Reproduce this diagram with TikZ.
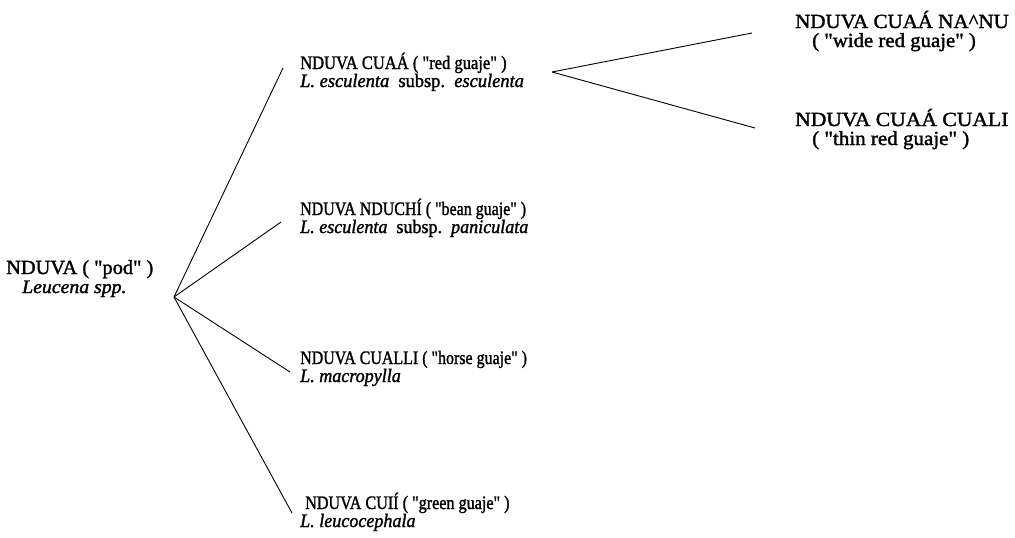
\documentclass[tikz,border=0pt]{standalone}
\usepackage{fontspec}
\setmainfont{Liberation Serif}[FakeBold=1.6]
\newcommand{\qq}{\textquotedbl}
\newcommand{\sx}[2]{\scalebox{#1}[1]{#2}}
\begin{document}
\begin{tikzpicture}[x=1pt,y=-1pt,
  lbl/.style={anchor=base west,inner sep=0pt,font=\fontsize{19}{21}\selectfont},
  big/.style={lbl,font=\fontsize{20}{22}\selectfont},
  edge/.style={line width=0.9pt,black}]
\useasboundingbox (0,0) rectangle (1015,538);
% root
\node[big] (root) at (6,274) {\sx{1.02}{NDUVA ( \qq pod\qq\ )}};
\node[lbl] (root2) at (22,293) {\sx{1.04}{\itshape Leucena spp.}};
\coordinate (fan) at (174,297);
% children
\node[lbl] (cuaa) at (300,69) {\sx{0.87}{NDUVA CUAÁ ( \qq red guaje\qq\ )}};
\node[lbl] (cuaa2) at (300,87) {\sx{0.97}{\itshape L. esculenta\upshape\ \ subsp.\ \ \itshape esculenta}};
\node[lbl] (nduchi) at (300,215) {\sx{0.84}{NDUVA NDUCHÍ ( \qq bean guaje\qq\ )}};
\node[lbl] (nduchi2) at (300,233) {\sx{0.95}{\itshape L. esculenta\upshape\ \ subsp.\ \ \itshape paniculata}};
\node[lbl] (cualli) at (300,364) {\sx{0.84}{NDUVA CUALLI ( \qq horse guaje\qq\ )}};
\node[lbl] (cualli2) at (300,382) {\sx{0.95}{\itshape L. macropylla}};
\node[lbl] (cuii) at (305,509) {\sx{0.85}{NDUVA CUIÍ ( \qq green guaje\qq\ )}};
\node[lbl] (cuii2) at (300,527) {\sx{0.95}{\itshape L. leucocephala}};
% grandchildren
\coordinate (split) at (552,72);
\node[big] (nanu) at (795,28) {\sx{1.05}{NDUVA CUAÁ NA\^{}NU}};
\node[big] (nanu2) at (812,47) {\sx{1.04}{( \qq wide red guaje\qq\ )}};
\node[big] (cuali) at (795,126) {\sx{1.08}{NDUVA CUAÁ CUALI}};
\node[big] (cuali2) at (812,145) {\sx{1.05}{( \qq thin red guaje\qq\ )}};
% connectors
\draw[edge] (fan) -- ([xshift=-17pt,yshift=1pt]cuaa.base west);
\draw[edge] (fan) -- ([xshift=-19pt,yshift=-7pt]nduchi.base west);
\draw[edge] (fan) -- ([xshift=-10pt,yshift=-8pt]cualli.base west);
\draw[edge] (fan) -- ([xshift=-13pt,yshift=-4pt]cuii.base west);
\draw[edge] (split) -- ([xshift=-43pt,yshift=-5pt]nanu.base west);
\draw[edge] (split) -- ([xshift=-40pt,yshift=-2pt]cuali.base west);
\end{tikzpicture}
\end{document}
